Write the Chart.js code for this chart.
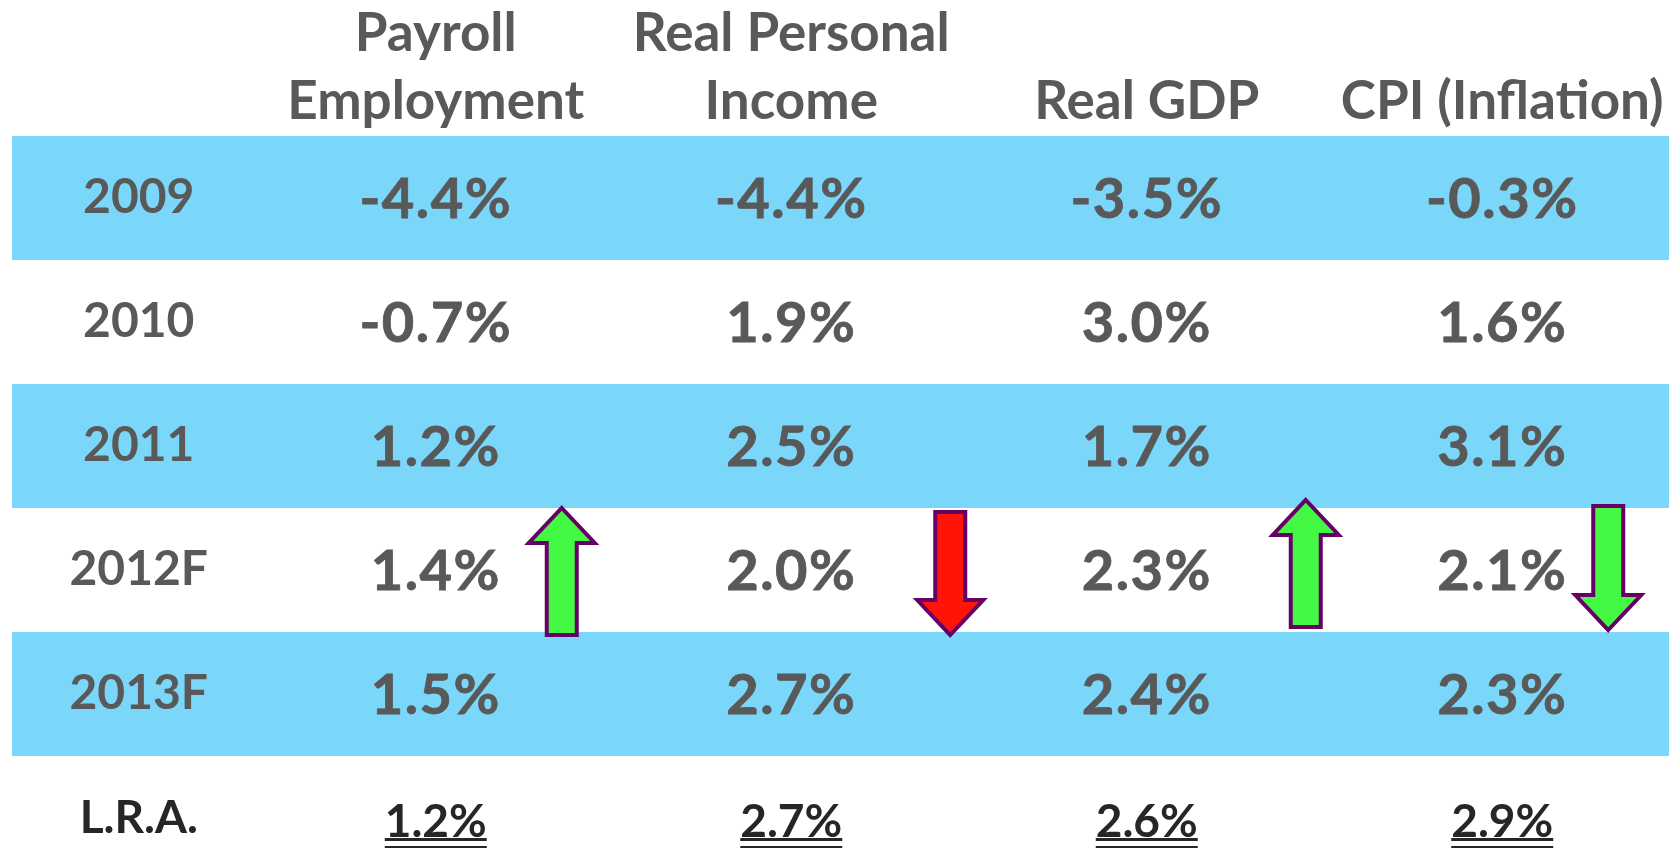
<!DOCTYPE html>
<html>
<head>
<meta charset="utf-8">
<script src="https://cdn.jsdelivr.net/npm/chart.js@4.4.1/dist/chart.umd.min.js"></script>
<style>
  html, body { margin: 0; padding: 0; background: #fff; overflow: hidden; width: 1669px; height: 848px; }
  canvas { display: block; }
</style>
</head>
<body>
<canvas id="outlookTable" width="1680" height="880"></canvas>
<script>
(function() {
    "use strict";

    // headers / rows
    const headers = [['Payroll', 'Employment'], ['Real Personal', 'Income'], 'Real GDP', 'CPI (Inflation)'];
    const years = ['2009', '2010', '2011', '2012F', '2013F'];
    const lraLabel = 'L.R.A.';

    // annual growth, %
    const payrollEmployment = [-4.4, -0.7, 1.2, 1.4, 1.5];
    const realPersonalIncome = [-4.4, 1.9, 2.5, 2.0, 2.7];
    const realGdp = [-3.5, 3.0, 1.7, 2.3, 2.4];
    const cpiInflation = [-0.3, 1.6, 3.1, 2.1, 2.3];

    // long run average
    const longRunAvg = [1.2, 2.7, 2.6, 2.9];

    // direction of the 2012 forecast revision
    const revision = ['up', 'down', 'up', 'down'];
    const revisionRow = 3;

    const series = [payrollEmployment, realPersonalIncome, realGdp, cpiInflation];
    const rowLabels = years.concat(lraLabel);
    const lraIndex = rowLabels.length - 1;

    // styles
    const bandColor = '#7bd7fa';
    const textColor = '#595959';
    const darkText = '#262626';
    const arrowFill = ['#44f944', '#ff1508', '#44f944', '#44f944'];
    const arrowShift = [126, 159, 159, 106];
    const arrowSpan = [[-62, 65], [-58, 65], [-70, 57], [-64, 60]];

    function fmt(v) {
        return v.toFixed(1) + '%';
    }

    function drawArrow(ctx, cx, top, bottom, dir, fill) {
        const shaft = 15, head = 33, headLen = 35;
        ctx.beginPath();
        if (dir === 'up') {
            ctx.moveTo(cx, top);
            ctx.lineTo(cx + head, top + headLen);
            ctx.lineTo(cx + shaft, top + headLen);
            ctx.lineTo(cx + shaft, bottom);
            ctx.lineTo(cx - shaft, bottom);
            ctx.lineTo(cx - shaft, top + headLen);
            ctx.lineTo(cx - head, top + headLen);
        } else {
            ctx.moveTo(cx, bottom);
            ctx.lineTo(cx + head, bottom - headLen);
            ctx.lineTo(cx + shaft, bottom - headLen);
            ctx.lineTo(cx + shaft, top);
            ctx.lineTo(cx - shaft, top);
            ctx.lineTo(cx - shaft, bottom - headLen);
            ctx.lineTo(cx - head, bottom - headLen);
        }
        ctx.closePath();
        ctx.fillStyle = fill;
        ctx.fill();
        ctx.lineWidth = 4;
        ctx.lineJoin = 'miter';
        ctx.strokeStyle = '#660066';
        ctx.stroke();
    }

    const tablePlugin = {
        id: 'tableCells',
        beforeDraw: function(chart) {
            const ctx = chart.ctx;
            const y = chart.scales.y;
            const step = y.getPixelForValue(1) - y.getPixelForValue(0);
            ctx.save();
            ctx.fillStyle = bandColor;
            years.forEach(function(yr, i) {
                if (i % 2 !== 0) return;
                const cy = y.getPixelForValue(i);
                ctx.fillRect(12, Math.round(cy - step / 2), chart.width - 12, Math.round(step));
            });
            ctx.restore();
        },
        afterDraw: function(chart) {
            const ctx = chart.ctx;
            const x = chart.scales.x;
            const y = chart.scales.y;
            ctx.save();
            ctx.textAlign = 'center';
            ctx.textBaseline = 'alphabetic';

            // yearly cells
            ctx.font = 'bold 56px Lato';
            ctx.letterSpacing = '1.5px';
            ctx.fillStyle = textColor;
            ctx.strokeStyle = textColor;
            ctx.lineWidth = 0.8;
            series.forEach(function(values, c) {
                const cx = x.getPixelForValue(c);
                values.forEach(function(v, r) {
                    const cy = y.getPixelForValue(r);
                    ctx.fillText(fmt(v), cx, cy + 20);
                    ctx.strokeText(fmt(v), cx, cy + 20);
                });
            });

            // long run average, double underlined
            ctx.font = 'bold 46px Lato';
            ctx.letterSpacing = '0px';
            ctx.fillStyle = darkText;
            const ly = y.getPixelForValue(lraIndex) + 19;
            longRunAvg.forEach(function(v, c) {
                const cx = x.getPixelForValue(c);
                const txt = fmt(v);
                const w = ctx.measureText(txt).width;
                ctx.fillText(txt, cx, ly);
                ctx.fillRect(cx - w / 2, ly + 1, w, 3);
                ctx.fillRect(cx - w / 2, ly + 9, w, 3);
            });

            // revision arrows
            const ry = y.getPixelForValue(revisionRow);
            revision.forEach(function(dir, c) {
                const cx = x.getPixelForValue(c) + arrowShift[c];
                drawArrow(ctx, cx, ry + arrowSpan[c][0], ry + arrowSpan[c][1], dir, arrowFill[c]);
            });
            ctx.restore();
        }
    };

    const ctx = document.getElementById('outlookTable').getContext('2d');
    const outlookChart = new Chart(ctx, {
        type: 'line',
        data: {
            datasets: []
        },
        options: {
            responsive: false,
            animation: false,
            layout: { padding: 0 },
            plugins: {
                legend: { display: false },
                tooltip: { enabled: false },
                title: { display: false }
            },
            scales: {
                x: {
                    type: 'category',
                    labels: headers,
                    position: 'top',
                    offset: true,
                    grid: { display: false, drawTicks: false },
                    border: { display: false },
                    ticks: {
                        autoSkip: false,
                        maxRotation: 0,
                        padding: 0,
                        color: textColor,
                        font: { family: 'Lato', weight: 'bold', size: 53, lineHeight: 1.28 }
                    },
                    afterFit: function(scale) {
                        scale.height = 136;
                        scale.paddingLeft = 0;
                        scale.paddingRight = 0;
                    }
                },
                y: {
                    type: 'category',
                    labels: rowLabels,
                    position: 'left',
                    offset: true,
                    grid: { display: false, drawTicks: false },
                    border: { display: false },
                    ticks: {
                        autoSkip: false,
                        crossAlign: 'center',
                        padding: 50,
                        color: function(c) {
                            return c.index === lraIndex ? darkText : textColor;
                        },
                        font: function(c) {
                            return { family: 'Lato', weight: 'bold', size: c.index === lraIndex ? 46 : 48 };
                        }
                    },
                    afterFit: function(scale) {
                        scale.width = 258;
                        scale.paddingTop = 0;
                        scale.paddingBottom = 0;
                    }
                }
            }
        },
        plugins: [tablePlugin]
    });
})();
</script>
</body>
</html>
